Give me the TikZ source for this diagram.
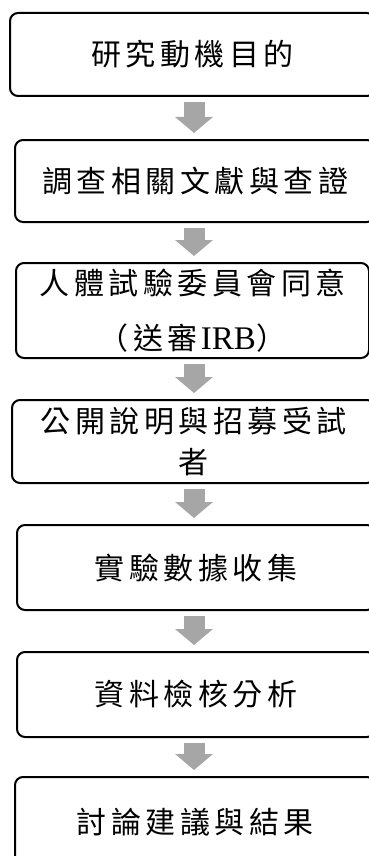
\documentclass[tikz,border=0pt]{standalone}
\usepackage{fontspec}
\setmainfont{Liberation Serif}
\newfontfamily\cjk[LetterSpace=15]{Noto Sans CJK TC}
\usetikzlibrary{arrows.meta}
\definecolor{arrowgray}{HTML}{A6A6A6}
\begin{document}
\begin{tikzpicture}[x=1pt,y=-1pt,
  box/.style={draw=black, line width=2pt, rounded corners=8pt, inner sep=0pt,
    font=\fontsize{30}{41}\selectfont\cjk, align=center},
  flow/.style={draw=arrowgray, line width=21pt,
    -{Triangle[width=37pt,length=16pt]}, shorten <=5pt, shorten >=6pt}]
\useasboundingbox (0,0) rectangle (369,856);
\clip (0,0) rectangle (369,856);
\node[box, minimum width=365pt, minimum height=83pt] (b1) at (192.5,54.5) {研究動機目的};
\node[box, minimum width=360pt, minimum height=82pt] (b2) at (195,181) {調查相關文獻與查證};
\node[box, minimum width=353pt, minimum height=95pt] (b3) at (192.5,310.5) {人體試驗委員會同意\\[14pt]（送審\hspace{3pt}{\fontsize{33}{41}\selectfont\rmfamily IRB}）};
\node[box, minimum width=363pt, minimum height=83pt] (b4) at (193.5,441.5) {公開說明與招募受試\\者};
\node[box, minimum width=358pt, minimum height=85pt] (b5) at (196,567.5) {實驗數據收集};
\node[box, minimum width=358pt, minimum height=85pt] (b6) at (196,694.5) {資料檢核分析};
\node[box, minimum width=360pt, minimum height=90pt] (b7) at (195,822) {討論建議與結果};
\coordinate (ax) at (194,0);
\draw[flow] (b1.south -| ax) -- (b2.north -| ax);
\draw[flow] (b2.south -| ax) -- (b3.north -| ax);
\draw[flow] (b3.south -| ax) -- (b4.north -| ax);
\draw[flow] (b4.south -| ax) -- (b5.north -| ax);
\draw[flow] (b5.south -| ax) -- (b6.north -| ax);
\draw[flow] (b6.south -| ax) -- (b7.north -| ax);
\end{tikzpicture}
\end{document}
